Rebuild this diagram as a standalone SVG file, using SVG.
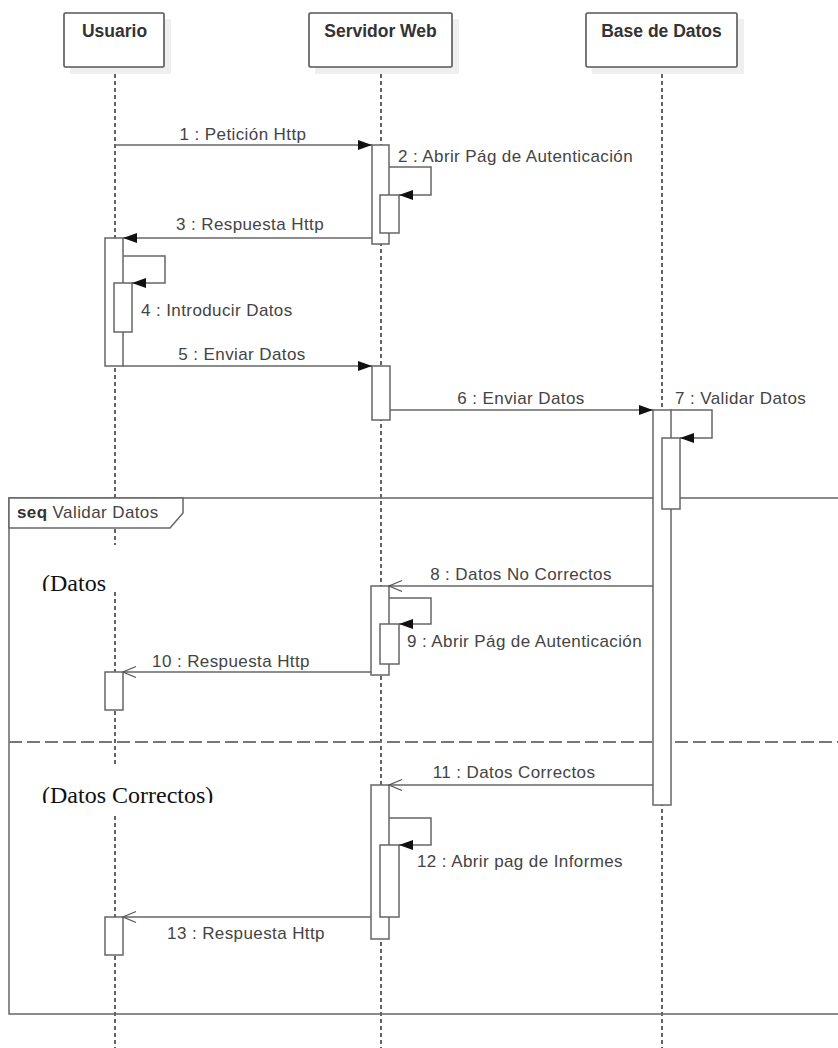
<svg xmlns="http://www.w3.org/2000/svg" width="838" height="1048" viewBox="0 0 838 1048">
  <style>
    .shadow { fill: #efefef; }
    .head { fill: #fff; stroke: #555; stroke-width: 1.6; }
    .life { stroke: #111; stroke-width: 1.3; stroke-dasharray: 4 3; fill: none; }
    .act { fill: #fff; stroke: #666; stroke-width: 1.5; }
    .msg { stroke: #666; stroke-width: 1.5; fill: none; }
    .frame { fill: none; stroke: #666; stroke-width: 1.5; }
    .tab { fill: #fff; stroke: #666; stroke-width: 1.5; }
    .sep { stroke: #777; stroke-width: 2; stroke-dasharray: 13 5; fill: none; }
    .hdr { font-family: "Liberation Sans", Arial, sans-serif; font-size: 17.5px; font-weight: bold; fill: #333; text-anchor: middle; }
    .lbl { font-family: "Liberation Sans", Arial, sans-serif; font-size: 17px; fill: #444; letter-spacing: 0.4px; }
    .mid { text-anchor: middle; }
    .guard { font-family: "Liberation Serif", "Times New Roman", serif; font-size: 24px; fill: #111; }
  </style>
  <defs>
    <marker id="filled" markerUnits="userSpaceOnUse" markerWidth="15" markerHeight="11" refX="14" refY="5" orient="auto">
      <path d="M0,0 L14,5 L0,10 z" fill="#111"/>
    </marker>
    <marker id="open" markerUnits="userSpaceOnUse" markerWidth="15" markerHeight="13" refX="14" refY="6" orient="auto">
      <path d="M1,0.5 L14,6 L1,11.5" fill="none" stroke="#555" stroke-width="1.2"/>
    </marker>
    <clipPath id="clipGuard1"><rect x="30" y="545" width="120" height="46"/></clipPath>
    <clipPath id="clipGuard2"><rect x="30" y="767" width="200" height="36"/></clipPath>
  </defs>

  <rect width="838" height="1048" fill="#fff"/>

  <!-- lifelines -->
  <g id="lifelines">
    <line class="life" x1="115" y1="67" x2="115" y2="1048"/>
    <line class="life" x1="381" y1="67" x2="381" y2="1048"/>
    <line class="life" x1="662" y1="67" x2="662" y2="1048"/>
  </g>

  <!-- combined fragment: seq Validar Datos -->
  <g id="frame-seq">
    <rect class="frame" x="9" y="498" width="840" height="516"/>
    <path class="tab" d="M9,498 H183 V513 L170,528 H9 Z"/>
    <text class="lbl" x="17" y="518"><tspan font-weight="bold" fill="#333">seq</tspan> Validar Datos</text>
    <line class="sep" x1="9" y1="742" x2="838" y2="742"/>
    <rect x="38" y="545" width="100" height="46" fill="#fff"/>
    <text class="guard" x="42" y="591" clip-path="url(#clipGuard1)">(Datos</text>
    <rect x="38" y="767" width="180" height="46" fill="#fff"/>
    <text class="guard" x="42" y="803" clip-path="url(#clipGuard2)">(Datos Correctos)</text>
  </g>

  <!-- participant: Usuario -->
  <g id="node-usuario">
    <rect class="shadow" x="70" y="19" width="101" height="55"/>
    <rect class="head" x="64" y="13" width="100" height="54" rx="1.5"/>
    <text class="hdr" x="114.5" y="37">Usuario</text>
    <rect class="act" x="105" y="238" width="18" height="128"/>
    <rect class="act" x="114" y="283" width="18" height="49"/>
    <rect class="act" x="105" y="672" width="18" height="38"/>
    <rect class="act" x="105" y="917" width="18" height="38"/>
  </g>

  <!-- participant: Servidor Web -->
  <g id="node-servidor">
    <rect class="shadow" x="315" y="19" width="144" height="55"/>
    <rect class="head" x="309" y="13" width="143" height="54" rx="1.5"/>
    <text class="hdr" x="380.5" y="37">Servidor Web</text>
    <rect class="act" x="372" y="145" width="17" height="99"/>
    <rect class="act" x="380" y="195" width="19" height="38"/>
    <rect class="act" x="372" y="366" width="18" height="54"/>
    <rect class="act" x="371" y="586" width="18" height="89"/>
    <rect class="act" x="380" y="624" width="19" height="40"/>
    <rect class="act" x="371" y="785" width="18" height="154"/>
    <rect class="act" x="380" y="845" width="19" height="72"/>
  </g>

  <!-- participant: Base de Datos -->
  <g id="node-bd">
    <rect class="shadow" x="592" y="19" width="152" height="55"/>
    <rect class="head" x="586" y="13" width="151" height="54" rx="1.5"/>
    <text class="hdr" x="661.5" y="37">Base de Datos</text>
    <rect class="act" x="653" y="410" width="18" height="395"/>
    <rect class="act" x="662" y="438" width="18" height="71"/>
  </g>

  <!-- messages -->
  <g id="connectors">
    <path class="msg" d="M115,145 H372" marker-end="url(#filled)"/>
    <path class="msg" d="M389,167 H431 V195 H399" marker-end="url(#filled)"/>
    <path class="msg" d="M372,238 H123" marker-end="url(#filled)"/>
    <path class="msg" d="M123,256 H165 V283 H132" marker-end="url(#filled)"/>
    <path class="msg" d="M123,366 H372" marker-end="url(#filled)"/>
    <path class="msg" d="M390,410 H653" marker-end="url(#filled)"/>
    <path class="msg" d="M671,410 H712 V438 H680" marker-end="url(#filled)"/>
    <path class="msg" d="M653,586 H389" marker-end="url(#open)"/>
    <path class="msg" d="M389,598 H431 V624 H399" marker-end="url(#filled)"/>
    <path class="msg" d="M371,672 H123" marker-end="url(#open)"/>
    <path class="msg" d="M653,785 H389" marker-end="url(#open)"/>
    <path class="msg" d="M389,818 H431 V845 H399" marker-end="url(#filled)"/>
    <path class="msg" d="M371,917 H123" marker-end="url(#open)"/>

    <text class="lbl mid" x="243" y="140">1 : Petición Http</text>
    <text class="lbl" x="398" y="162">2 : Abrir Pág de Autenticación</text>
    <text class="lbl mid" x="250" y="230">3 : Respuesta Http</text>
    <text class="lbl" x="141" y="316">4 : Introducir Datos</text>
    <text class="lbl mid" x="242" y="360">5 : Enviar Datos</text>
    <text class="lbl mid" x="521" y="404">6 : Enviar Datos</text>
    <text class="lbl" x="675" y="404">7 : Validar Datos</text>
    <text class="lbl mid" x="521" y="580">8 : Datos No Correctos</text>
    <text class="lbl" x="407" y="647">9 : Abrir Pág de Autenticación</text>
    <text class="lbl mid" x="231" y="667">10 : Respuesta Http</text>
    <text class="lbl mid" x="514" y="778">11 : Datos Correctos</text>
    <text class="lbl" x="417" y="867">12 : Abrir pag de Informes</text>
    <text class="lbl mid" x="246" y="939">13 : Respuesta Http</text>
  </g>
</svg>
